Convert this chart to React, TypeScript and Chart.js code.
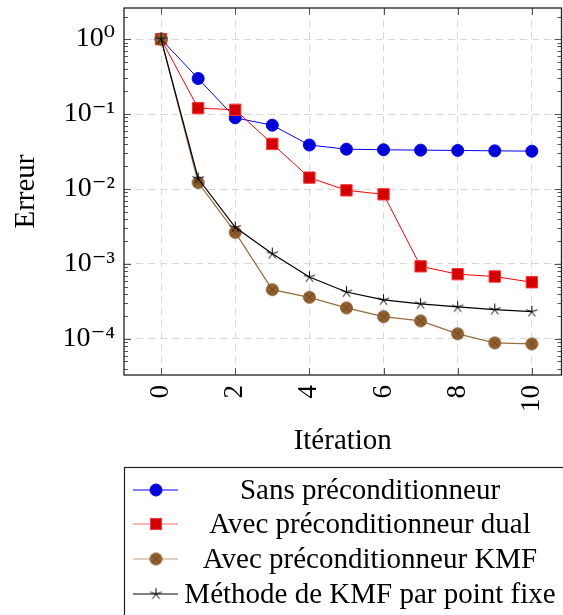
import React, { useEffect, useRef } from 'react';
import { Chart, registerables } from 'chart.js';

Chart.register(...registerables);

// ---- data ----
const iterations = [0, 1, 2, 3, 4, 5, 6, 7, 8, 9, 10];
const sansPrecond = [1, 0.298, 0.089, 0.071, 0.0386, 0.034, 0.0334, 0.033, 0.0327, 0.0323, 0.032];
const dualPrecond = [1, 0.12, 0.114, 0.04, 0.0142, 0.0096, 0.0085, 0.00093, 0.00073, 0.00068, 0.00057];
const kmfPrecond = [1, 0.0122, 0.00264, 0.000454, 0.000359, 0.000259, 0.000198, 0.000174, 0.000117, 0.0000885, 0.0000858];
const kmfPointFixe = [1, 0.0138, 0.00308, 0.00137, 0.00067, 0.000423, 0.000331, 0.000293, 0.000267, 0.000246, 0.000231];
const seriesLabels = [
  'Sans préconditionneur',
  'Avec préconditionneur dual',
  'Avec préconditionneur KMF',
  'Méthode de KMF par point fixe',
];
const xTickValues = [0, 2, 4, 6, 8, 10];
const yTickValues = [1e-4, 1e-3, 1e-2, 1e-1, 1];
const yTickLabels = ['10⁻⁴', '10⁻³', '10⁻²', '10⁻¹', '10⁰'];
const xTitle = 'Itération';
const yTitle = 'Erreur';

const SERIF = '"Liberation Serif", "DejaVu Serif", serif';

function makeCircleCross(): HTMLCanvasElement {
  const c = document.createElement('canvas');
  c.width = 15;
  c.height = 15;
  const g = c.getContext('2d')!;
  const cx = 7.5, cy = 7.5, r = 6;
  g.beginPath();
  g.arc(cx, cy, r, 0, Math.PI * 2);
  g.fillStyle = '#93602d';
  g.fill();
  g.lineWidth = 0.8;
  g.strokeStyle = '#7a4f24';
  g.stroke();
  const d = r * Math.SQRT1_2;
  g.beginPath();
  g.moveTo(cx - d, cy - d);
  g.lineTo(cx + d, cy + d);
  g.moveTo(cx + d, cy - d);
  g.lineTo(cx - d, cy + d);
  g.strokeStyle = '#5c3b1a';
  g.lineWidth = 0.8;
  g.stroke();
  return c;
}

function makeStar(): HTMLCanvasElement {
  const c = document.createElement('canvas');
  c.width = 15;
  c.height = 15;
  const g = c.getContext('2d')!;
  const cx = 7.5, cy = 7.5, r = 6;
  g.beginPath();
  for (let k = 0; k < 5; k++) {
    const a = -Math.PI / 2 + (k * 2 * Math.PI) / 5;
    g.moveTo(cx, cy);
    g.lineTo(cx + r * Math.cos(a), cy + r * Math.sin(a));
  }
  g.strokeStyle = '#000';
  g.lineWidth = 1;
  g.stroke();
  return c;
}

export default function App() {
  const ref = useRef<HTMLCanvasElement>(null);

  useEffect(() => {
    const canvas = ref.current!;
    const brownMarker = makeCircleCross();
    const starMarker = makeStar();

    const toPts = (arr: number[]) => iterations.map((x, i) => ({ x, y: arr[i] }));

    const legendStyles = [
      { line: '#0000ff', kind: 'circle', fill: '#0000d8', edge: '#0000ff' },
      { line: '#ff6a6a', kind: 'rect', fill: '#d40000', edge: '#ff4040' },
      { line: '#c0a080', kind: 'image', img: brownMarker },
      { line: '#000000', kind: 'image', img: starMarker },
    ];

    const framePlugin = {
      id: 'frameAndLegend',
      afterDraw(chart: any) {
        const ctx = chart.ctx as CanvasRenderingContext2D;
        const { left, right, top, bottom } = chart.chartArea;
        const xs = chart.scales.x;
        const ys = chart.scales.y;
        ctx.save();
        // ticks
        ctx.strokeStyle = '#555';
        ctx.lineWidth = 1;
        ctx.beginPath();
        for (const v of xTickValues) {
          const px = Math.round(xs.getPixelForValue(v)) + 0.5;
          ctx.moveTo(px, bottom);
          ctx.lineTo(px, bottom - 7);
          ctx.moveTo(px, top);
          ctx.lineTo(px, top + 7);
        }
        const minE = Math.floor(Math.log10(ys.min));
        const maxE = Math.ceil(Math.log10(ys.max));
        for (let e = minE; e <= maxE; e++) {
          for (let m = 1; m <= 9; m++) {
            const v = m * Math.pow(10, e);
            if (v < ys.min || v > ys.max) continue;
            const py = Math.round(ys.getPixelForValue(v)) + 0.5;
            const len = m === 1 ? 7 : 4;
            ctx.moveTo(left, py);
            ctx.lineTo(left + len, py);
            ctx.moveTo(right, py);
            ctx.lineTo(right - len, py);
          }
        }
        ctx.stroke();
        // frame
        ctx.strokeStyle = '#222';
        ctx.lineWidth = 1.3;
        ctx.strokeRect(left, top, right - left, bottom - top);

        // legend
        const lx = 124.5, ly = 467.5;
        ctx.strokeStyle = '#222';
        ctx.lineWidth = 1.2;
        ctx.strokeRect(lx, ly, 460, 200);
        const rows = [490, 524, 559, 594];
        ctx.font = '29px ' + SERIF;
        ctx.textAlign = 'center';
        ctx.textBaseline = 'middle';
        chart.data.datasets.forEach((ds: any, i: number) => {
          const y = rows[i];
          const st: any = legendStyles[i];
          ctx.beginPath();
          ctx.moveTo(133, y);
          ctx.lineTo(178, y);
          ctx.strokeStyle = st.line;
          ctx.lineWidth = 1.2;
          ctx.stroke();
          const mx = 156;
          if (st.kind === 'circle') {
            ctx.beginPath();
            ctx.arc(mx, y, 6, 0, Math.PI * 2);
            ctx.fillStyle = st.fill;
            ctx.fill();
            ctx.strokeStyle = st.edge;
            ctx.lineWidth = 1;
            ctx.stroke();
          } else if (st.kind === 'rect') {
            ctx.fillStyle = st.fill;
            ctx.fillRect(mx - 5.5, y - 5.5, 11, 11);
            ctx.strokeStyle = st.edge;
            ctx.lineWidth = 1;
            ctx.strokeRect(mx - 5.5, y - 5.5, 11, 11);
          } else {
            const img = st.img as HTMLCanvasElement;
            ctx.drawImage(img, mx - img.width / 2, y - img.height / 2);
          }
          ctx.fillStyle = '#000';
          ctx.fillText(ds.label, 370, y + 1);
        });
        ctx.restore();
      },
    };

    const chart = new Chart(canvas, {
      type: 'line',
      data: {
        datasets: [
          {
            label: seriesLabels[0],
            data: toPts(sansPrecond),
            borderColor: '#0000ff',
            borderWidth: 1,
            pointStyle: 'circle',
            pointRadius: 6,
            pointBackgroundColor: '#0000d8',
            pointBorderColor: '#0000ff',
            pointBorderWidth: 1,
            order: 4,
          },
          {
            label: seriesLabels[1],
            data: toPts(dualPrecond),
            borderColor: '#ff0000',
            borderWidth: 1,
            pointStyle: 'rect',
            pointRadius: 8,
            pointBackgroundColor: '#d40000',
            pointBorderColor: '#ff3030',
            pointBorderWidth: 1,
            order: 3,
          },
          {
            label: seriesLabels[2],
            data: toPts(kmfPrecond),
            borderColor: '#9c6b3a',
            borderWidth: 1.2,
            pointStyle: brownMarker as any,
            pointRadius: 6,
            order: 2,
          },
          {
            label: seriesLabels[3],
            data: toPts(kmfPointFixe),
            borderColor: '#000000',
            borderWidth: 1.2,
            pointStyle: starMarker as any,
            pointRadius: 6,
            order: 1,
          },
        ],
      },
      options: {
        responsive: false,
        animation: false,
        devicePixelRatio: 1,
        layout: { autoPadding: false, padding: { left: 0, top: 8, right: 1.5, bottom: 156 } },
        plugins: {
          legend: { display: false },
          tooltip: { enabled: false },
        },
        elements: { line: { tension: 0 } },
        scales: {
          x: {
            type: 'linear',
            position: 'bottom',
            min: -1,
            max: 10.8,
            afterBuildTicks: (scale: any) => {
              scale.ticks = xTickValues.map((v) => ({ value: v }));
            },
            afterFit: (scale: any) => {
              scale.height = 84;
              scale.paddingLeft = 0;
              scale.paddingRight = 0;
              scale.paddingTop = 0;
              scale.paddingBottom = 0;
            },
            grid: { color: '#d9d9d9', lineWidth: 1, drawTicks: false },
            border: { display: false, dash: [7, 5] },
            ticks: {
              autoSkip: false,
              minRotation: 90,
              maxRotation: 90,
              padding: 10,
              color: '#000',
              font: { family: SERIF, size: 27 },
              callback: (v: any) => String(v),
            },
            title: {
              display: true,
              text: xTitle,
              color: '#000',
              font: { family: SERIF, size: 29 },
              padding: { top: 0, bottom: 0 },
            },
          },
          y: {
            type: 'logarithmic',
            position: 'left',
            min: 3.3e-5,
            max: 2.6,
            afterBuildTicks: (scale: any) => {
              scale.ticks = yTickValues.map((v) => ({ value: v, major: true }));
            },
            afterFit: (scale: any) => {
              scale.width = 124;
              scale.paddingLeft = 0;
              scale.paddingRight = 0;
              scale.paddingTop = 0;
              scale.paddingBottom = 0;
            },
            grid: { color: '#d9d9d9', lineWidth: 1, drawTicks: false },
            border: { display: false, dash: [7, 5] },
            ticks: {
              autoSkip: false,
              padding: 9,
              color: '#000',
              font: { family: SERIF, size: 28 },
              callback: (v: any) => {
                const idx = yTickValues.findIndex((t) => Math.abs(t - v) / t < 1e-6);
                return idx >= 0 ? yTickLabels[idx] : '';
              },
            },
            title: {
              display: true,
              text: yTitle,
              color: '#000',
              font: { family: SERIF, size: 29 },
              padding: { top: 9, bottom: 0 },
            },
          },
        },
      },
      plugins: [framePlugin],
    } as any);

    return () => chart.destroy();
  }, []);

  return (
    <div style={{ position: 'absolute', left: 0, top: 0, width: 563, height: 615, background: '#fff' }}>
      <canvas ref={ref} width={563} height={615} style={{ display: 'block' }} />
    </div>
  );
}
